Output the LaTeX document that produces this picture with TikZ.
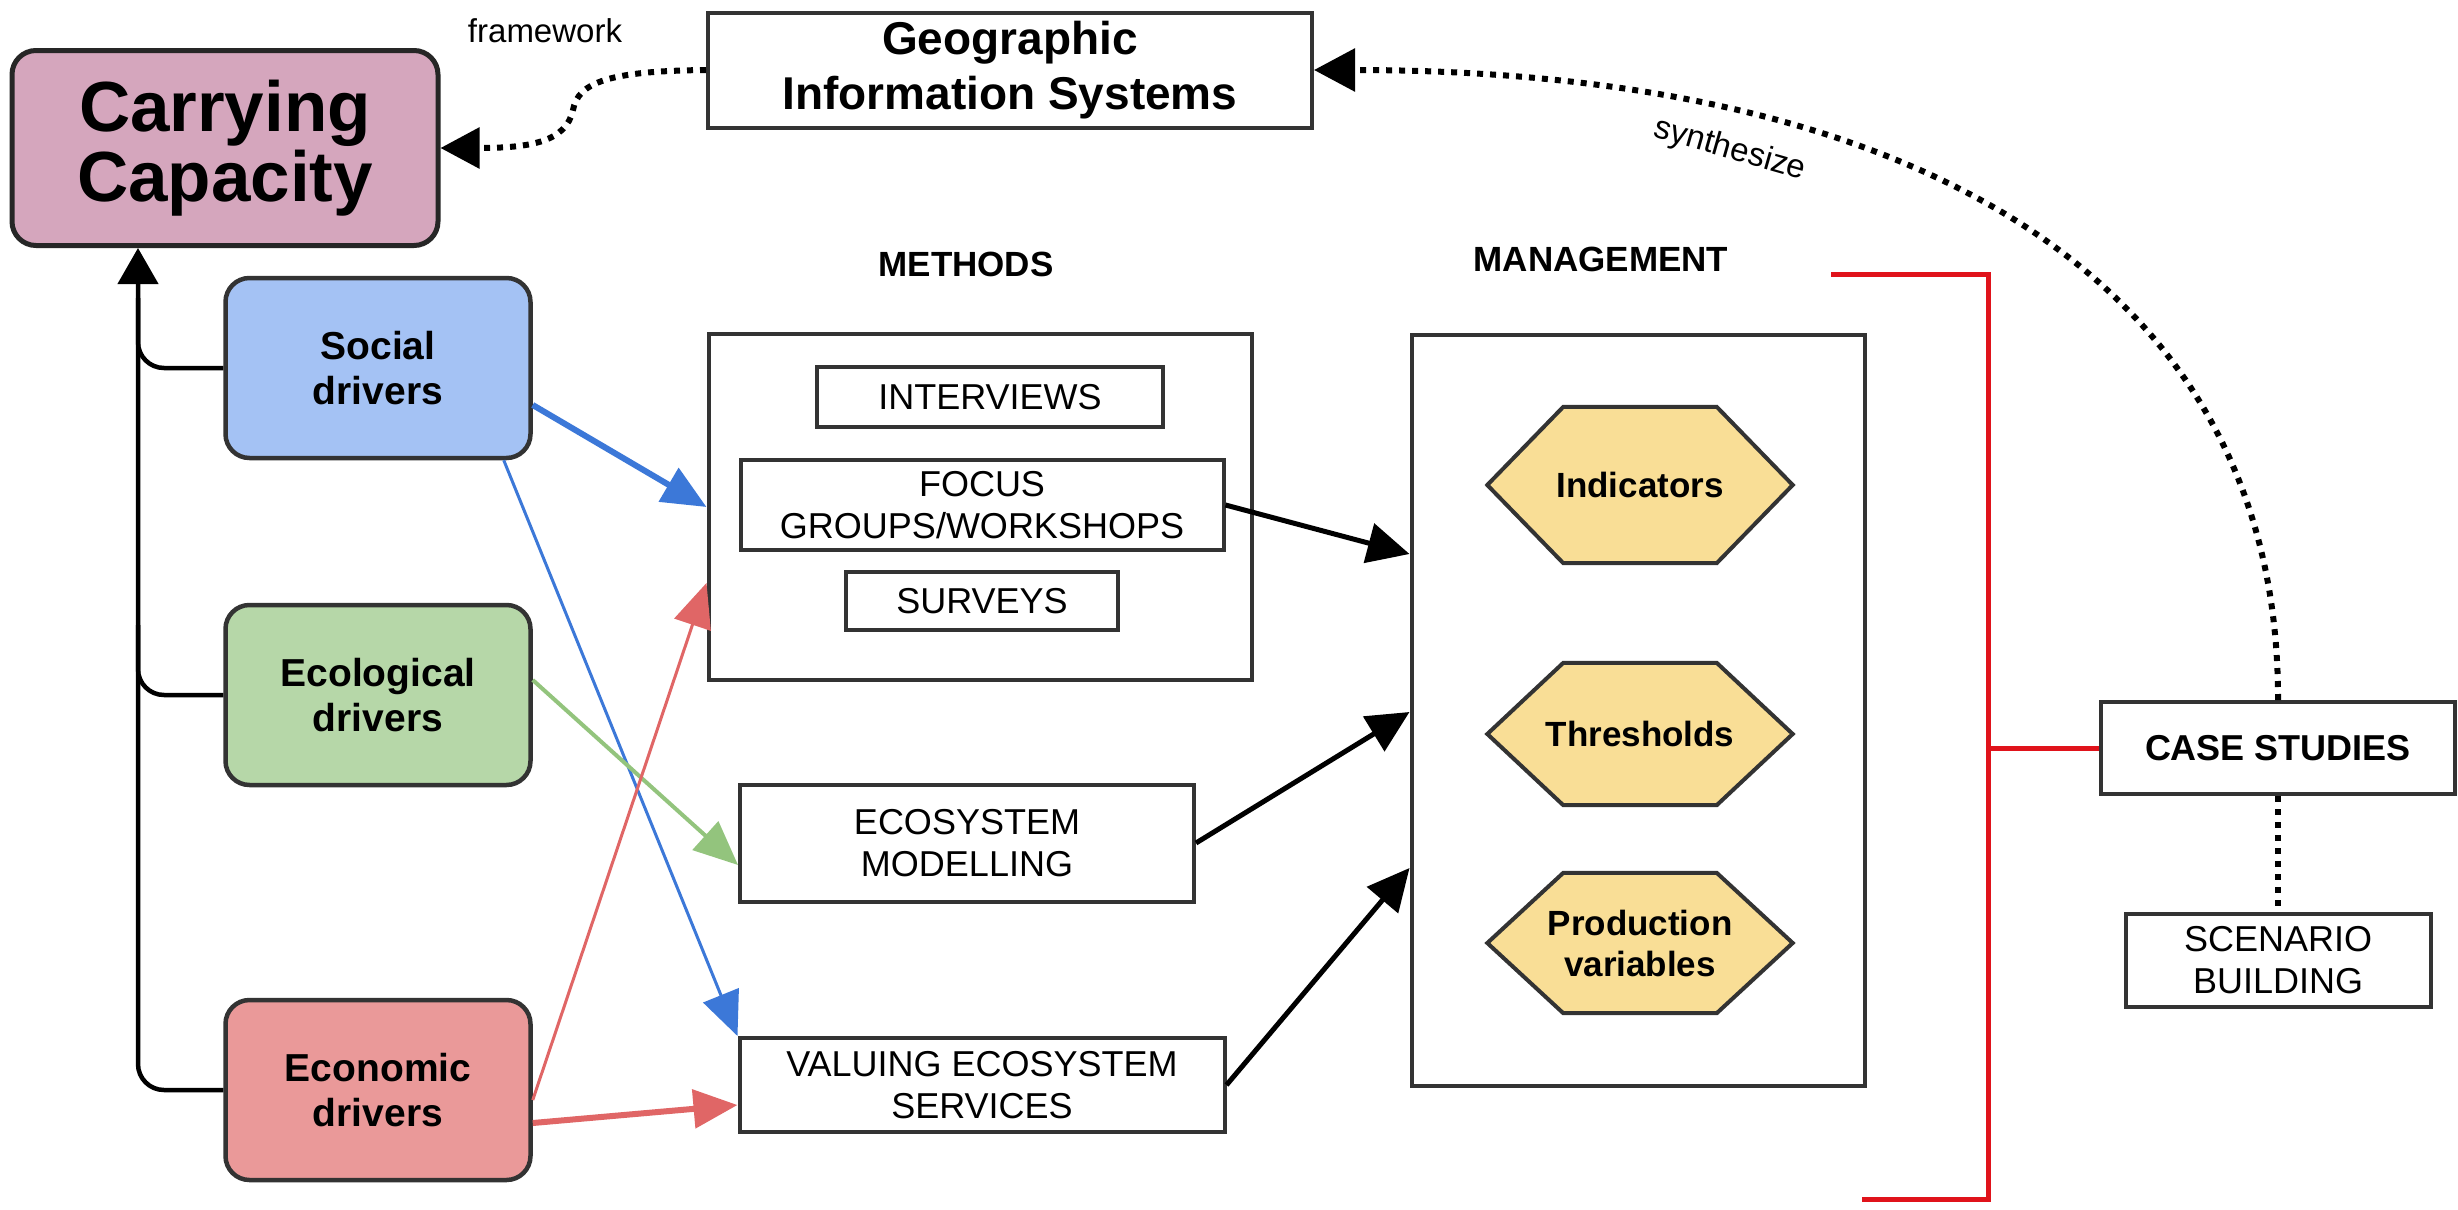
\documentclass[tikz,border=0pt]{standalone}
\usepackage{fontspec}
\setmainfont{Liberation Sans}
\usetikzlibrary{arrows.meta,calc,backgrounds}
\definecolor{ccfill}{HTML}{D5A6BD}
\definecolor{socfill}{HTML}{A4C2F4}
\definecolor{ecofill}{HTML}{B6D7A8}
\definecolor{econfill}{HTML}{EA9999}
\definecolor{hexfill}{HTML}{F9DE96}
\definecolor{edgec}{HTML}{333333}
\definecolor{blueA}{HTML}{3C78D8}
\definecolor{greenA}{HTML}{93C47D}
\definecolor{redA}{HTML}{E06666}
\definecolor{redB}{HTML}{E0131B}
\begin{document}
\begin{tikzpicture}[x=1pt,y=-1pt,
  box/.style={draw=edgec, line width=4pt, fill=white, inner sep=0pt, align=center,
    font=\fontsize{36}{42}\selectfont},
  bbox/.style={box, font=\bfseries\fontsize{36}{42}\selectfont},
  driver/.style={draw=edgec, line width=4.5pt, rounded corners=24pt, inner sep=0pt, align=center,
    minimum width=305pt, minimum height=180pt, font=\bfseries\fontsize{39}{45}\selectfont},
  hexa/.style={inner sep=0pt, minimum width=305pt, align=center, font=\bfseries\fontsize{35}{41}\selectfont},
  hexline/.style={draw=edgec, fill=hexfill, line width=4pt, line join=miter},
  heading/.style={inner sep=0pt, font=\bfseries\fontsize{35}{40}\selectfont},
  plainlabel/.style={inner sep=0pt, font=\fontsize{33}{40}\selectfont},
  blackarrow/.style={-{Triangle[length=42pt,width=40pt]}, line width=5pt},
  colarrow/.style={-{Triangle[length=44pt,width=38pt]}},
  dotline/.style={line width=6pt, dash pattern=on 6pt off 7pt},
  redline/.style={draw=redB, line width=5pt}
]
\useasboundingbox (0,0) rectangle (2458,1210);
\begin{scope}[on background layer]
\fill[white] (0,0) rectangle (2458,1210);
\end{scope}

% main nodes
\node[draw=black!85, fill=ccfill, line width=5pt, rounded corners=24pt, inner sep=0pt, align=center,
  minimum width=426pt, minimum height=195pt, font=\bfseries\fontsize{71}{70}\selectfont]
  (cc) at (225,148) {Carrying\\Capacity};
\node[box, minimum width=604pt, minimum height=115pt, font=\bfseries\fontsize{46}{55}\selectfont]
  (gis) at (1010,70) {Geographic\\Information Systems};
\node[plainlabel, anchor=base] (fw) at (545,42) {framework};
\node[plainlabel, rotate=-16] (syn) at (1730,150) {synthesize};

\node[driver, fill=socfill] (soc) at (378,368) {Social\\drivers};
\node[driver, fill=ecofill] (eco) at (378,695) {Ecological\\drivers};
\node[driver, fill=econfill] (econ) at (378,1090) {Economic\\drivers};

\node[heading, anchor=base] (mh) at (966,276) {METHODS};
\node[heading, anchor=base] (mgh) at (1601,271) {MANAGEMENT};

\node[box, minimum width=543pt, minimum height=346pt] (meth) at (980,507) {};
\node[box, minimum width=346pt, minimum height=60pt] (int) at (990,397) {INTERVIEWS};
\node[box, minimum width=483pt, minimum height=90pt] (foc) at (982,505) {FOCUS\\GROUPS/WORKSHOPS};
\node[box, minimum width=272pt, minimum height=58pt] (sur) at (982,601) {SURVEYS};
\node[box, minimum width=454pt, minimum height=117pt] (emod) at (967,843) {ECOSYSTEM\\MODELLING};
\node[box, minimum width=485pt, minimum height=94pt] (val) at (982,1085) {VALUING ECOSYSTEM\\SERVICES};

\node[box, fill=none, minimum width=453pt, minimum height=751pt] (mgmt) at (1638,710) {};
\node[hexa, minimum height=156pt] (ind) at (1640,485) {Indicators};
\node[hexa, minimum height=142pt] (thr) at (1640,734) {Thresholds};
\node[hexa, minimum height=140pt] (prod) at (1640,943) {Production\\variables};
\begin{scope}[on background layer]
\foreach \h in {ind,thr,prod}{
  \path[hexline] (\h.west) -- ($(\h.north west)+(76,0)$) -- ($(\h.north east)+(-76,0)$)
    -- (\h.east) -- ($(\h.south east)+(-76,0)$) -- ($(\h.south west)+(76,0)$) -- cycle;
}
\end{scope}

\node[bbox, minimum width=354pt, minimum height=92pt] (case) at (2278,748) {CASE STUDIES};
\node[box, minimum width=305pt, minimum height=93pt] (scen) at (2278,960) {SCENARIO\\BUILDING};

% trunk to carrying capacity
\coordinate (trunk) at (138,0);
\draw[line width=4.5pt, rounded corners=26pt, -{Triangle[length=36pt,width=40pt]}]
  (econ.west) -| (cc.south -| trunk);
\draw[line width=4.5pt, rounded corners=26pt] (soc.west) -- (soc.west -| trunk) -- ++(0,-70);
\draw[line width=4.5pt, rounded corners=26pt] (eco.west) -- (eco.west -| trunk) -- ++(0,-70);

% dotted connectors
\draw[dotline, -{Triangle[length=39pt,width=40pt]}] (gis.west)
  .. controls (610,71) and (578,82) .. (573,110)
  .. controls (566,142) and (530,148) .. (cc.east);
\draw[dotline, -{Triangle[length=41pt,width=42pt]}] (case.north)
  .. controls (2279,290) and (1930,70) .. (gis.east);
\draw[dotline] (case.south) -- (scen.north);

% black arrows into management
\draw[blackarrow] (foc.east) -- ($(mgmt.west)+(0,-156)$);
\draw[blackarrow] (emod.east) -- ($(mgmt.west)+(0,2)$);
\draw[blackarrow] (val.east) -- ($(mgmt.west)+(0,158)$);

% coloured arrows
\draw[colarrow, blueA, line width=6pt] ($(soc.east)+(0,37)$) -- (meth.west);
\draw[colarrow, blueA, line width=3pt] ($(soc.south east)+(-29,0)$) -- (val.north west);
\draw[colarrow, greenA, line width=4pt] ($(eco.east)+(0,-15)$) -- ($(emod.west)+(0,22)$);
\draw[colarrow, redA, line width=3pt] ($(econ.east)+(0,10)$) -- ($(meth.west)+(0,76)$);
\draw[colarrow, redA, line width=6pt] ($(econ.east)+(0,33)$) -- ($(val.west)+(0,20)$);

% red bracket
\coordinate (brtop) at (1831,274);
\coordinate (brbot) at (1862,1199);
\coordinate (brmid) at (1988,748);
\draw[redline] (brtop) -- (brtop -| brmid) -- (brbot -| brmid) -- (brbot);
\draw[redline] (brmid) -- (case.west);
\end{tikzpicture}
\end{document}
